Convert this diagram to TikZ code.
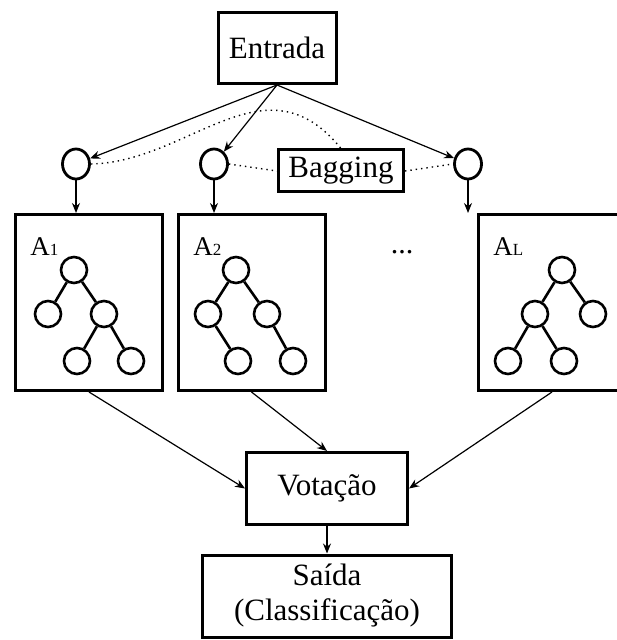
\documentclass[tikz,border=0pt]{standalone}
\usepackage{fontspec}
\setmainfont{Liberation Serif}
\usetikzlibrary{arrows.meta,shapes.geometric}
\tikzset{
  box/.style={draw,line width=1.5pt,inner sep=0pt,align=center,
              font=\fontsize{15.5}{17.5}\selectfont},
  clf/.style={box,minimum width=73.5pt,minimum height=88pt},
  seed/.style={draw,ellipse,line width=1.4pt,minimum width=13.5pt,
               minimum height=15pt,inner sep=0pt},
  leaf/.style={draw,circle,line width=1.3pt,minimum size=13pt,inner sep=0pt},
  branch/.style={line width=1.3pt},
  flow/.style={-{Stealth[length=5pt,width=4pt]},line width=.6pt},
  sample/.style={dotted,line width=.7pt},
  tag/.style={anchor=base west,font=\fontsize{13.5}{15}\selectfont,inner sep=0pt},
}
\newcommand{\idx}[1]{{\fontsize{8.5}{9}\selectfont #1}}

\begin{document}
\begin{tikzpicture}[x=.5pt,y=-.5pt]
  \useasboundingbox (0,0) rectangle (616,640);

  % input and bootstrap samples
  \node[box,minimum width=59pt,minimum height=35.5pt] (in) at (277,48) {Entrada};
  \node[seed] (s1) at (76,164) {};
  \node[seed] (s2) at (214,164) {};
  \node[seed] (s3) at (468,164) {};
  \node[box,minimum width=62.5pt,minimum height=21pt] (bag) at (341,171) {Bagging};

  % one box per classifier
  \node[clf] (A1) at (89,302.5) {};
  \node[clf] (A2) at (251.5,302.5) {};
  \node[clf] (AL) at (552,302.5) {};
  \node[tag] (lA1) at (30,256) {A\idx{1}};
  \node[tag] (lA2) at (193,256) {A\idx{2}};
  \node[tag] (lAL) at (493,256) {A\idx{L}};
  \node[font=\fontsize{15}{18}\selectfont] (dots) at (402,252) {...};

  % trees
  \node[leaf] (t1r) at (74,270) {};
  \node[leaf] (t1a) at (48,314) {};
  \node[leaf] (t1b) at (104,314) {};
  \node[leaf] (t1c) at (77,361) {};
  \node[leaf] (t1d) at (131,361) {};
  \draw[branch] (t1r) -- (t1a) (t1r) -- (t1b) (t1b) -- (t1c) (t1b) -- (t1d);

  \node[leaf] (t2r) at (236,270) {};
  \node[leaf] (t2a) at (208,314) {};
  \node[leaf] (t2b) at (267,314) {};
  \node[leaf] (t2c) at (238,361) {};
  \node[leaf] (t2d) at (293,361) {};
  \draw[branch] (t2r) -- (t2a) (t2r) -- (t2b) (t2a) -- (t2c) (t2b) -- (t2d);

  \node[leaf] (t3r) at (562,270) {};
  \node[leaf] (t3a) at (535,314) {};
  \node[leaf] (t3b) at (593,314) {};
  \node[leaf] (t3c) at (508,361) {};
  \node[leaf] (t3d) at (564,361) {};
  \draw[branch] (t3r) -- (t3a) (t3r) -- (t3b) (t3a) -- (t3c) (t3a) -- (t3d);

  % combination and output
  \node[box,minimum width=80.5pt,minimum height=36pt] (vote) at (327,488.5) {Votação};
  \node[box,minimum width=124.5pt,minimum height=41pt] (out) at (327,596)
    {Saída\\(Classificação)};

  % connectors
  \foreach \s in {s1,s2,s3}
    \draw[flow] (in.south) -- (\s);
  \draw[flow] (s1.south) -- (s1.south |- A1.north);
  \draw[flow] (s2.south) -- (s2.south |- A2.north);
  \draw[flow] (s3.south) -- (s3.south |- AL.north);
  \draw[sample] (s1.east) .. controls (190,162) and (265,55) .. (bag.north);
  \draw[sample] (s2.east) -- (bag.west);
  \draw[sample] (bag.east) -- (s3.west);

  \draw[flow] (A1.south) -- (vote.west);
  \draw[flow] (A2.south) -- (vote.north);
  \draw[flow] (AL.south) -- (vote.east);
  \draw[flow] (vote) -- (out);
\end{tikzpicture}
\end{document}
